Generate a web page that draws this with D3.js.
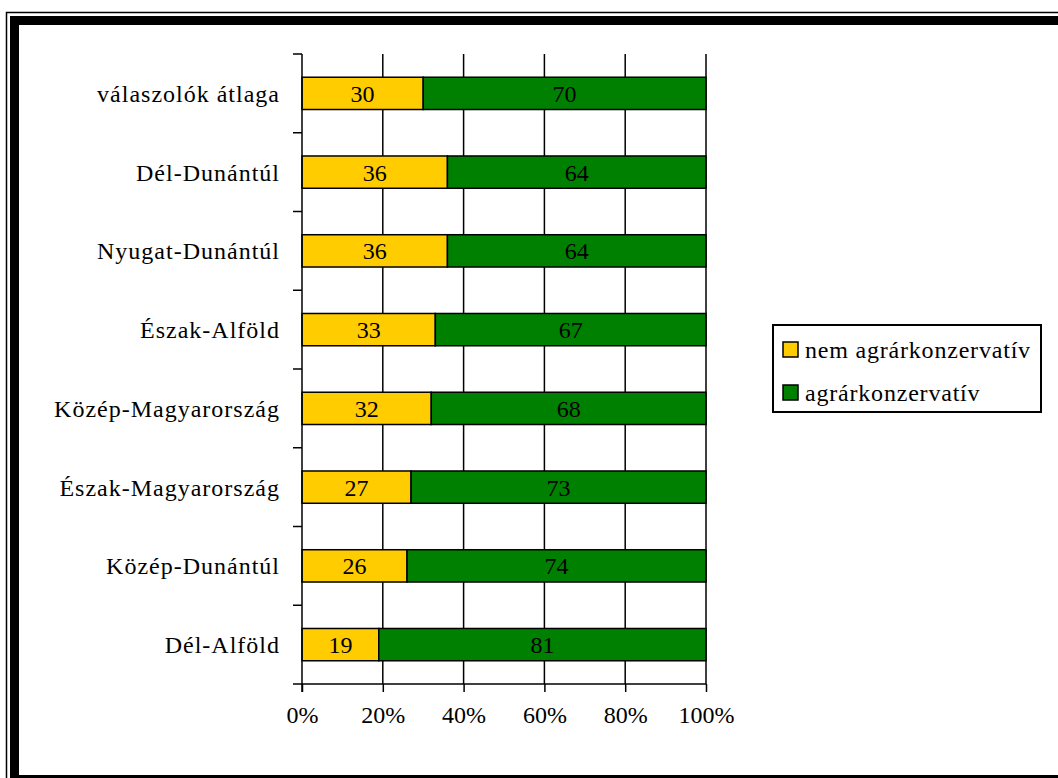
<!DOCTYPE html>
<html><head><meta charset="utf-8">
<script src="https://cdn.jsdelivr.net/npm/d3@7"></script>
<style>html,body{margin:0;padding:0;background:#fff;}svg{display:block;}</style>
</head><body>
<svg id="chart" width="1058" height="778"></svg>
<script>
const categories = ["válaszolók átlaga","Dél-Dunántúl","Nyugat-Dunántúl","Észak-Alföld","Közép-Magyarország","Észak-Magyarország","Közép-Dunántúl","Dél-Alföld"];
const nemAgrar = [30,36,36,33,32,27,26,19];
const agrar = [70,64,64,67,68,73,74,81];
const seriesNames = ["nem agrárkonzervatív","agrárkonzervatív"];
const seriesColors = ["#FFCC00","#008000"];
const xTicks = [0,20,40,60,80,100];

(function(){
const svg = d3.select("#chart");
const font = "'Liberation Serif','Times New Roman',serif";

// frame
svg.append("rect").attr("x",6.5).attr("y",12.5).attr("width",1100).attr("height",800)
  .attr("fill","none").attr("stroke","#000").attr("stroke-width",1.5);
svg.append("rect").attr("x",14.5).attr("y",20.5).attr("width",1100).attr("height",759)
  .attr("fill","none").attr("stroke","#000").attr("stroke-width",9);

const pl = 302, pr = 706, pt = 54, pb = 684;
const x = d3.scaleLinear().domain([0,100]).range([pl,pr]);
const y = d3.scaleBand().domain(categories).range([pt,pb]).paddingInner(0.59).paddingOuter(0.295);

// gridlines
svg.append("g").selectAll("line").data(xTicks.slice(1)).join("line")
  .attr("x1",d=>x(d)).attr("x2",d=>x(d)).attr("y1",pt).attr("y2",pb)
  .attr("stroke","#000").attr("stroke-width",1.5);

// bars
const stacked = categories.map((c,i)=>({cat:c, vals:[nemAgrar[i],agrar[i]]}));
stacked.forEach(d=>{
  let acc=0;
  d.vals.forEach((v,k)=>{
    const g = svg.append("g");
    g.append("rect").attr("x",x(acc)).attr("y",y(d.cat)).attr("width",x(acc+v)-x(acc)).attr("height",y.bandwidth())
      .attr("fill",seriesColors[k]).attr("stroke","#000").attr("stroke-width",1.5);
    g.append("text").attr("x",(x(acc)+x(acc+v))/2).attr("y",y(d.cat)+y.bandwidth()/2).attr("dy","0.35em")
      .attr("text-anchor","middle").attr("font-family",font).attr("font-size",24).text(v);
    acc+=v;
  });
});

// y axis
const boundaries = d3.range(categories.length+1).map(i=>pt+i*(pb-pt)/categories.length);
svg.append("line").attr("x1",pl).attr("x2",pl).attr("y1",pt).attr("y2",pb+8).attr("stroke","#000").attr("stroke-width",1.5);
svg.append("g").selectAll("line").data(boundaries).join("line")
  .attr("x1",pl-9).attr("x2",pl).attr("y1",d=>d).attr("y2",d=>d).attr("stroke","#000").attr("stroke-width",1.5);
svg.append("g").selectAll("text").data(categories).join("text")
  .attr("x",280).attr("y",d=>y(d)+y.bandwidth()/2).attr("dy","0.35em").attr("text-anchor","end")
  .attr("font-family",font).attr("font-size",24).attr("letter-spacing",1).text(d=>d);

// x axis
const xAxis = d3.axisBottom(x).tickValues(xTicks).tickSize(8).tickFormat(d=>d+"%");
const gx = svg.append("g").attr("transform",`translate(0,${pb})`).call(xAxis);
gx.select(".domain").remove();
gx.append("line").attr("x1",pl).attr("x2",pr).attr("stroke","#000").attr("stroke-width",1.5);
gx.selectAll(".tick line").attr("stroke","#000").attr("stroke-width",1.5);
gx.selectAll(".tick text").attr("font-family",font).attr("font-size",24).attr("fill","#000").attr("y",22).attr("dy","0.71em");

// legend
const lg = svg.append("g");
lg.append("rect").attr("x",773).attr("y",325).attr("width",268).attr("height",87).attr("fill","#fff").attr("stroke","#000").attr("stroke-width",2);
seriesNames.forEach((n,i)=>{
  lg.append("rect").attr("x",783).attr("y",342+i*43).attr("width",15).attr("height",15).attr("fill",seriesColors[i]).attr("stroke","#000").attr("stroke-width",1.5);
  lg.append("text").attr("x",805).attr("y",350+i*43).attr("dy","0.35em").attr("font-family",font).attr("font-size",24).attr("letter-spacing",0.8).text(n);
});
})();
</script>
</body></html>
